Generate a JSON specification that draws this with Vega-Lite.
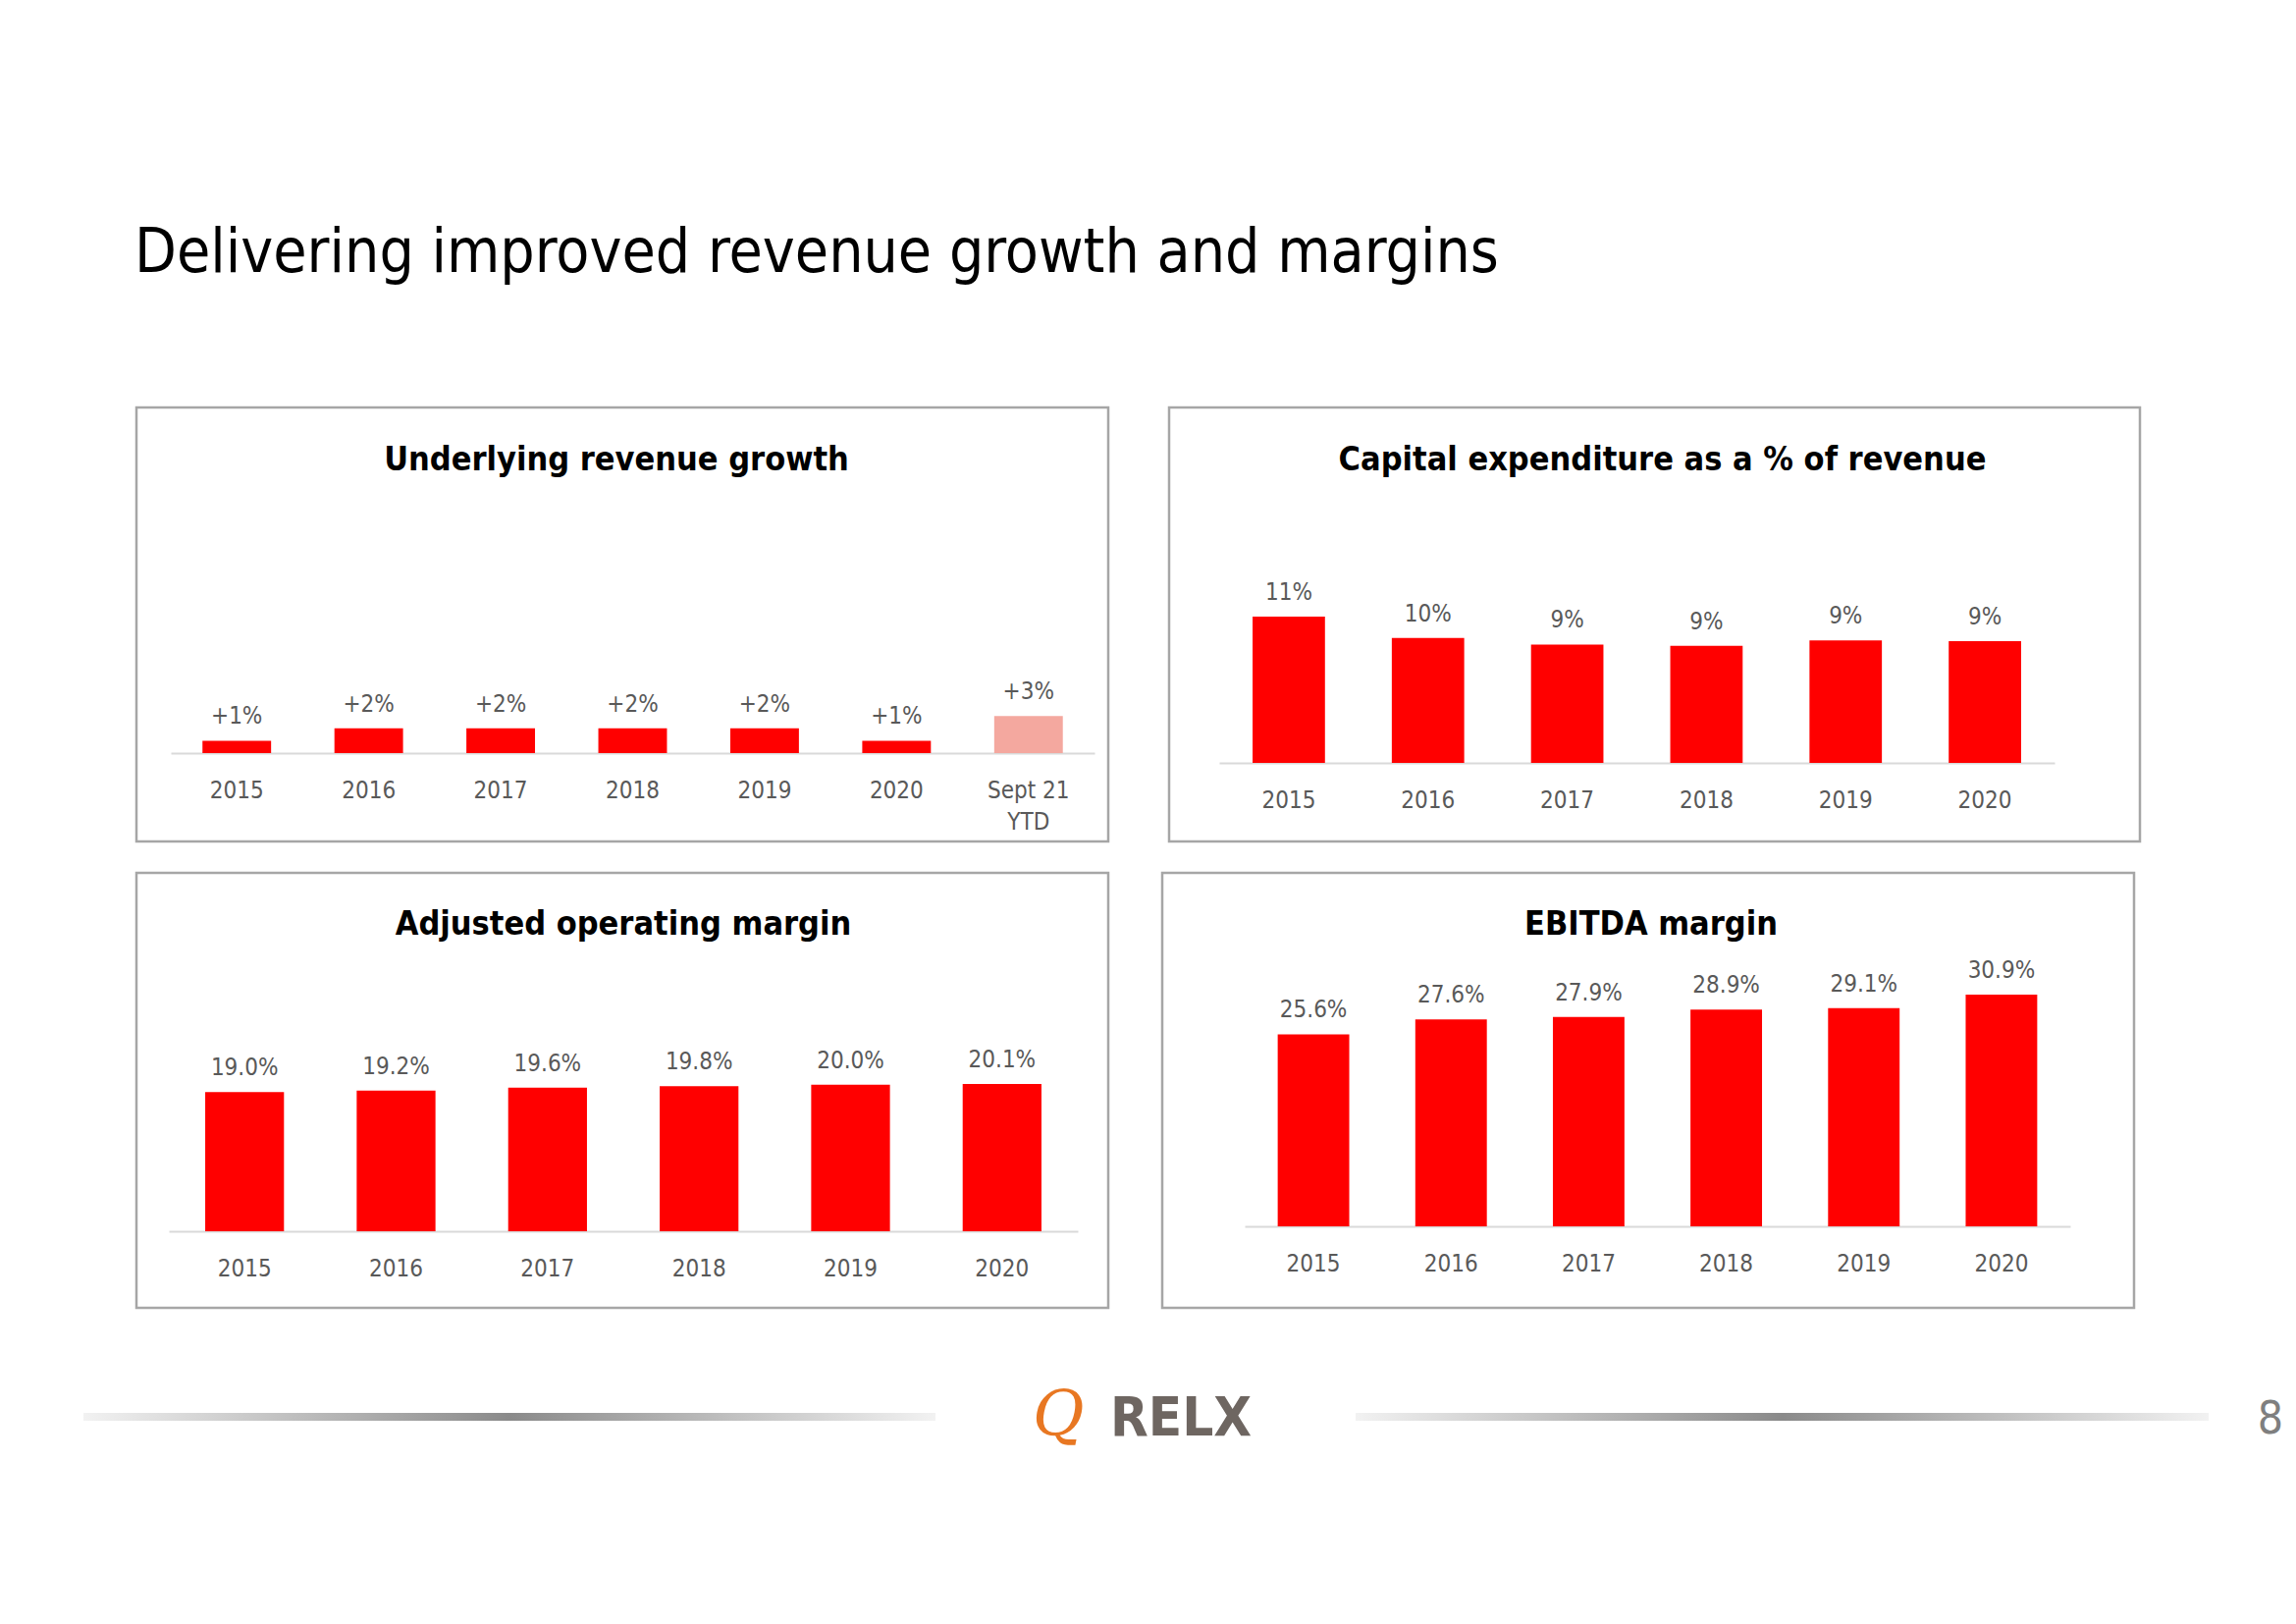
{
  "$schema": "https://vega.github.io/schema/vega-lite/v6.json",
  "background": "white",
  "padding": {"left": 85, "top": 226, "right": 0, "bottom": 10},
  "config": {
    "font": "Liberation Sans Narrow, DejaVu Sans Condensed, sans-serif",
    "view": {"stroke": "#a6a6a6", "strokeWidth": 2.5},
    "axis": {"domainColor": "#d9d9d9", "domainWidth": 2, "ticks": false, "grid": false, "labelFontSize": 24, "labelColor": "#595959", "labelPadding": 26, "labelFont": "Liberation Sans Narrow, DejaVu Sans Condensed, sans-serif", "labelAngle": 0, "labelLineHeight": 32},
    "title": {"font": "Liberation Sans Narrow, DejaVu Sans Condensed, sans-serif", "color": "#000000"},
    "text": {"font": "Liberation Sans Narrow, DejaVu Sans Condensed, sans-serif"}
  },
  "title": {"text": "Delivering improved revenue growth and margins", "anchor": "start", "frame": "group", "fontSize": 62, "fontWeight": "normal", "baseline": "alphabetic", "offset": 75, "dx": -2},
  "spacing": 28,
  "vconcat": [
    {
      "spacing": 58,
      "hconcat": [
        {
          "width": 990, "height": 442,
          "title": {"text": "Underlying revenue growth", "fontSize": 34, "fontWeight": "bold", "baseline": "alphabetic", "offset": -98, "dx": -6},
          "data": {"values": [
            {"period": "2015", "growth": 1, "label": "+1%", "type": "Full year"},
            {"period": "2016", "growth": 2, "label": "+2%", "type": "Full year"},
            {"period": "2017", "growth": 2, "label": "+2%", "type": "Full year"},
            {"period": "2018", "growth": 2, "label": "+2%", "type": "Full year"},
            {"period": "2019", "growth": 2, "label": "+2%", "type": "Full year"},
            {"period": "2020", "growth": 1, "label": "+1%", "type": "Full year"},
            {"period": "Sept 21 YTD", "growth": 3, "label": "+3%", "type": "YTD"}
          ]},
          "encoding": {
            "x": {"field": "period", "type": "nominal", "sort": null, "scale": {"range": [35, 976], "paddingInner": 0.48, "paddingOuter": 0.24}, "axis": {"title": null, "offset": -90, "labelExpr": "datum.label == 'Sept 21 YTD' ? ['Sept 21', 'YTD'] : datum.label"}},
            "y": {"field": "growth", "type": "quantitative", "scale": {"domain": [0, 27.94], "range": [352, 0], "nice": false}, "axis": null}
          },
          "layer": [
            {"mark": {"type": "bar"}, "encoding": {"color": {"field": "type", "type": "nominal", "scale": {"domain": ["Full year", "YTD"], "range": ["#ff0000", "#f4a89f"]}, "legend": null}}},
            {"mark": {"type": "text", "dy": -17, "baseline": "alphabetic", "fontSize": 24, "color": "#595959"}, "encoding": {"text": {"field": "label"}}}
          ]
        },
        {
          "width": 989, "height": 442,
          "title": {"text": "Capital expenditure as a % of revenue", "fontSize": 34, "fontWeight": "bold", "baseline": "alphabetic", "offset": -98, "dx": 8},
          "data": {"values": [
            {"year": "2015", "capex": 11.0, "label": "11%"},
            {"year": "2016", "capex": 9.4, "label": "10%"},
            {"year": "2017", "capex": 8.9, "label": "9%"},
            {"year": "2018", "capex": 8.8, "label": "9%"},
            {"year": "2019", "capex": 9.2, "label": "9%"},
            {"year": "2020", "capex": 9.15, "label": "9%"}
          ]},
          "encoding": {
            "x": {"field": "year", "type": "nominal", "sort": null, "scale": {"range": [51, 902], "paddingInner": 0.48, "paddingOuter": 0.24}, "axis": {"title": null, "offset": -80}},
            "y": {"field": "capex", "type": "quantitative", "scale": {"domain": [0, 26.72], "range": [362, 0], "nice": false}, "axis": null}
          },
          "layer": [
            {"mark": {"type": "bar", "color": "#ff0000"}},
            {"mark": {"type": "text", "dy": -17, "baseline": "alphabetic", "fontSize": 24, "color": "#595959"}, "encoding": {"text": {"field": "label"}}}
          ]
        }
      ]
    },
    {
      "spacing": 51,
      "hconcat": [
        {
          "width": 990, "height": 443,
          "title": {"text": "Adjusted operating margin", "fontSize": 34, "fontWeight": "bold", "baseline": "alphabetic", "offset": -97, "dx": 1},
          "data": {"values": [
            {"year": "2015", "margin": 19.0, "label": "19.0%"},
            {"year": "2016", "margin": 19.2, "label": "19.2%"},
            {"year": "2017", "margin": 19.6, "label": "19.6%"},
            {"year": "2018", "margin": 19.8, "label": "19.8%"},
            {"year": "2019", "margin": 20.0, "label": "20.0%"},
            {"year": "2020", "margin": 20.1, "label": "20.1%"}
          ]},
          "encoding": {
            "x": {"field": "year", "type": "nominal", "sort": null, "scale": {"range": [33, 959], "paddingInner": 0.48, "paddingOuter": 0.24}, "axis": {"title": null, "offset": -78}},
            "y": {"field": "margin", "type": "quantitative", "scale": {"domain": [0, 48.93], "range": [365, 0], "nice": false}, "axis": null}
          },
          "layer": [
            {"mark": {"type": "bar", "color": "#ff0000"}},
            {"mark": {"type": "text", "dy": -17, "baseline": "alphabetic", "fontSize": 24, "color": "#595959"}, "encoding": {"text": {"field": "label"}}}
          ]
        },
        {
          "width": 990, "height": 443,
          "title": {"text": "EBITDA margin", "fontSize": 34, "fontWeight": "bold", "baseline": "alphabetic", "offset": -97, "dx": 3},
          "data": {"values": [
            {"year": "2015", "margin": 25.6, "label": "25.6%"},
            {"year": "2016", "margin": 27.6, "label": "27.6%"},
            {"year": "2017", "margin": 27.9, "label": "27.9%"},
            {"year": "2018", "margin": 28.9, "label": "28.9%"},
            {"year": "2019", "margin": 29.1, "label": "29.1%"},
            {"year": "2020", "margin": 30.9, "label": "30.9%"}
          ]},
          "encoding": {
            "x": {"field": "year", "type": "nominal", "sort": null, "scale": {"range": [84, 925], "paddingInner": 0.48, "paddingOuter": 0.24}, "axis": {"title": null, "offset": -83}},
            "y": {"field": "margin", "type": "quantitative", "scale": {"domain": [0, 47.12], "range": [360, 0], "nice": false}, "axis": null}
          },
          "layer": [
            {"mark": {"type": "bar", "color": "#ff0000"}},
            {"mark": {"type": "text", "dy": -17, "baseline": "alphabetic", "fontSize": 24, "color": "#595959"}, "encoding": {"text": {"field": "label"}}}
          ]
        }
      ]
    },
    {
      "width": 2040, "height": 109,
      "view": {"stroke": null},
      "data": {"values": [{}]},
      "layer": [
        {
          "mark": {"type": "rect", "fill": {"gradient": "linear", "stops": [{"offset": 0, "color": "#f2f2f2"}, {"offset": 0.5, "color": "#8a8a8a"}, {"offset": 1, "color": "#f2f2f2"}]}},
          "encoding": {
            "x": {"datum": 85, "type": "quantitative", "scale": {"domain": [139, 2179], "nice": false, "zero": false}, "axis": null},
            "x2": {"datum": 953},
            "y": {"datum": 1438, "type": "quantitative", "scale": {"domain": [1361, 1470], "reverse": true, "nice": false, "zero": false}, "axis": null},
            "y2": {"datum": 1446}
          }
        },
        {
          "mark": {"type": "rect", "fill": {"gradient": "linear", "stops": [{"offset": 0, "color": "#f2f2f2"}, {"offset": 0.5, "color": "#8a8a8a"}, {"offset": 1, "color": "#f2f2f2"}]}},
          "encoding": {
            "x": {"datum": 1381, "type": "quantitative"},
            "x2": {"datum": 2250},
            "y": {"datum": 1438, "type": "quantitative"},
            "y2": {"datum": 1446}
          }
        },
        {
          "mark": {"type": "text", "text": "Q", "font": "DejaVu Serif", "fontStyle": "italic", "fontSize": 64, "color": "#e87722", "align": "left", "baseline": "alphabetic"},
          "encoding": {"x": {"datum": 1052, "type": "quantitative"}, "y": {"datum": 1461, "type": "quantitative"}}
        },
        {
          "mark": {"type": "text", "text": "RELX", "fontSize": 56, "fontWeight": "bold", "color": "#6e6661", "align": "left", "baseline": "alphabetic"},
          "encoding": {"x": {"datum": 1131, "type": "quantitative"}, "y": {"datum": 1461, "type": "quantitative"}}
        },
        {
          "mark": {"type": "text", "text": "8", "fontSize": 46, "color": "#7f7f7f", "align": "center", "baseline": "alphabetic"},
          "encoding": {"x": {"datum": 2313, "type": "quantitative"}, "y": {"datum": 1459, "type": "quantitative"}}
        }
      ]
    }
  ]
}
